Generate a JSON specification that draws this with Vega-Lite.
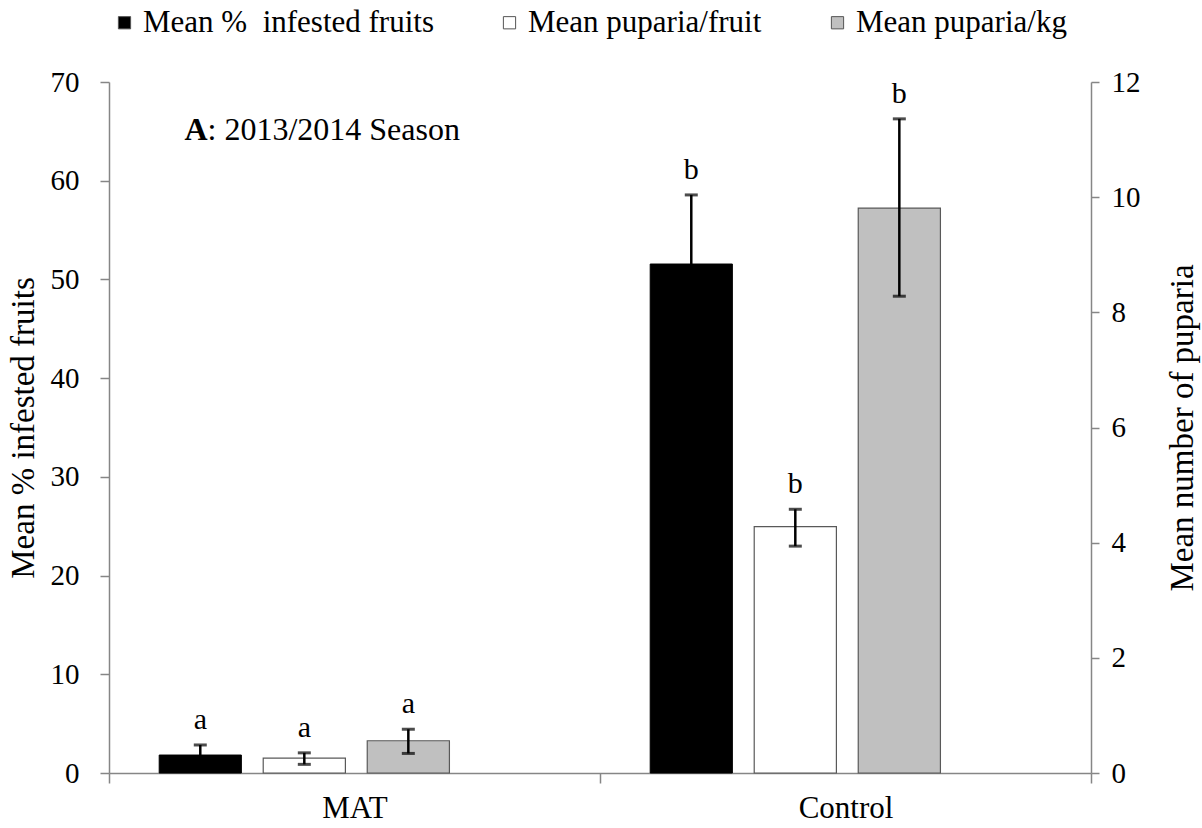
{
  "$schema": "https://vega.github.io/schema/vega-lite/v6.json",
  "width": 982,
  "height": 691,
  "autosize": {"type": "none"},
  "padding": {"left": 109, "top": 82, "right": 111, "bottom": 55},
  "background": "white",
  "config": {
    "font": "Liberation Serif",
    "view": {"stroke": null},
    "axis": {
      "grid": false,
      "domainColor": "#868686",
      "domainWidth": 1.5,
      "tickColor": "#868686",
      "tickWidth": 1.5,
      "labelColor": "black",
      "titleColor": "black",
      "labelFont": "Liberation Serif",
      "titleFont": "Liberation Serif",
      "labelFontSize": 29,
      "titleFontSize": 33,
      "titleFontWeight": "normal"
    },
    "legend": {
      "orient": "top",
      "direction": "horizontal",
      "title": null,
      "labelFont": "Liberation Serif",
      "labelFontSize": 31,
      "labelColor": "black",
      "labelLimit": 0,
      "symbolType": "square",
      "symbolSize": 150,
      "symbolStrokeColor": "#555555",
      "symbolStrokeWidth": 1,
      "columnPadding": 60,
      "labelOffset": 3,
      "offset": 44
    }
  },
  "data": {
    "values": [
      {"treat": "MAT", "series": "Mean % \u00a0infested fruits", "axis": "left", "value": 1.82, "lo": 0.82, "hi": 2.84, "letter": "a"},
      {"treat": "MAT", "series": "Mean puparia/fruit", "axis": "right", "value": 0.26, "lo": 0.15, "hi": 0.35, "letter": "a"},
      {"treat": "MAT", "series": "Mean puparia/kg", "axis": "right", "value": 0.56, "lo": 0.34, "hi": 0.76, "letter": "a"},
      {"treat": "Control", "series": "Mean % \u00a0infested fruits", "axis": "left", "value": 51.56, "lo": 44.56, "hi": 58.56, "letter": "b"},
      {"treat": "Control", "series": "Mean puparia/fruit", "axis": "right", "value": 4.28, "lo": 3.94, "hi": 4.58, "letter": "b"},
      {"treat": "Control", "series": "Mean puparia/kg", "axis": "right", "value": 9.81, "lo": 8.28, "hi": 11.36, "letter": "b"}
    ]
  },
  "layer": [
    {
      "layer": [
        {
          "transform": [{"filter": "datum.axis == 'left'"}],
          "mark": {"type": "bar", "stroke": "#000000", "strokeWidth": 1},
          "encoding": {
            "x": {"field": "treat", "type": "nominal", "sort": ["MAT", "Control"], "scale": {"paddingInner": 0, "paddingOuter": 0}, "axis": {"title": null, "labelAngle": 0, "tickBand": "extent", "tickSize": 10, "labelPadding": 10, "labelFontSize": 31}},
            "xOffset": {"field": "series", "type": "nominal", "scale": {"domain": ["Mean % \u00a0infested fruits", "Mean puparia/fruit", "Mean puparia/kg"], "paddingInner": 0.21, "paddingOuter": 0.965, "align": 0.25}},
            "y": {"field": "value", "type": "quantitative", "scale": {"domain": [0, 70]}, "axis": {"title": "Mean % infested fruits", "values": [0, 10, 20, 30, 40, 50, 60, 70], "tickSize": 9, "labelPadding": 21, "titlePadding": 10}},
            "fill": {"field": "series", "type": "nominal", "scale": {"domain": ["Mean % \u00a0infested fruits", "Mean puparia/fruit", "Mean puparia/kg"], "range": ["#000000", "#ffffff", "#c0c0c0"]}}
          }
        },
        {
          "transform": [{"filter": "datum.axis == 'left'"}],
          "mark": {"type": "rule", "color": "black", "strokeWidth": 2.5},
          "encoding": {
            "x": {"field": "treat", "type": "nominal", "sort": ["MAT", "Control"]},
            "xOffset": {"field": "series", "type": "nominal"},
            "y": {"field": "lo", "type": "quantitative", "axis": {"title": "Mean % infested fruits"}},
            "y2": {"field": "hi"}
          }
        },
        {
          "transform": [{"filter": "datum.axis == 'left'"}],
          "mark": {"type": "tick", "orient": "horizontal", "size": 13, "thickness": 3, "color": "black"},
          "encoding": {
            "x": {"field": "treat", "type": "nominal", "sort": ["MAT", "Control"]},
            "xOffset": {"field": "series", "type": "nominal"},
            "y": {"field": "hi", "type": "quantitative", "axis": {"title": "Mean % infested fruits"}}
          }
        },
        {
          "transform": [{"filter": "datum.axis == 'left'"}],
          "mark": {"type": "text", "fontSize": 30, "baseline": "alphabetic", "dy": -16, "color": "black"},
          "encoding": {
            "x": {"field": "treat", "type": "nominal", "sort": ["MAT", "Control"]},
            "xOffset": {"field": "series", "type": "nominal"},
            "y": {"field": "hi", "type": "quantitative", "axis": {"title": "Mean % infested fruits"}},
            "text": {"field": "letter"}
          }
        },
        {
          "data": {"values": [{"note": "A"}]},
          "mark": {"type": "text", "fontSize": 32, "fontWeight": "bold", "align": "left", "baseline": "alphabetic", "dx": -170, "color": "black"},
          "encoding": {
            "x": {"datum": "MAT", "type": "nominal"},
            "y": {"datum": 64.1, "type": "quantitative"},
            "text": {"field": "note"}
          }
        },
        {
          "data": {"values": [{"note": ": 2013/2014 Season"}]},
          "mark": {"type": "text", "fontSize": 32, "align": "left", "baseline": "alphabetic", "dx": -147, "color": "black"},
          "encoding": {
            "x": {"datum": "MAT", "type": "nominal"},
            "y": {"datum": 64.1, "type": "quantitative"},
            "text": {"field": "note"}
          }
        }
      ]
    },
    {
      "layer": [
        {
          "transform": [{"filter": "datum.axis == 'right'"}],
          "mark": {"type": "bar", "stroke": "#595959", "strokeWidth": 1.2},
          "encoding": {
            "x": {"field": "treat", "type": "nominal", "sort": ["MAT", "Control"]},
            "xOffset": {"field": "series", "type": "nominal"},
            "y": {"field": "value", "type": "quantitative", "scale": {"domain": [0, 12]}, "axis": {"title": "Mean number of puparia", "orient": "right", "format": "d", "values": [0, 2, 4, 6, 8, 10, 12], "tickSize": 8, "labelPadding": 12, "titlePadding": 26, "titleAngle": 270, "titleBaseline": "top"}},
            "fill": {"field": "series", "type": "nominal"}
          }
        },
        {
          "transform": [{"filter": "datum.axis == 'right'"}],
          "mark": {"type": "rule", "color": "black", "strokeWidth": 2.5},
          "encoding": {
            "x": {"field": "treat", "type": "nominal", "sort": ["MAT", "Control"]},
            "xOffset": {"field": "series", "type": "nominal"},
            "y": {"field": "lo", "type": "quantitative", "axis": {"title": "Mean number of puparia"}},
            "y2": {"field": "hi"}
          }
        },
        {
          "transform": [{"filter": "datum.axis == 'right'"}],
          "mark": {"type": "tick", "orient": "horizontal", "size": 13, "thickness": 3, "color": "black"},
          "encoding": {
            "x": {"field": "treat", "type": "nominal", "sort": ["MAT", "Control"]},
            "xOffset": {"field": "series", "type": "nominal"},
            "y": {"field": "hi", "type": "quantitative", "axis": {"title": "Mean number of puparia"}}
          }
        },
        {
          "transform": [{"filter": "datum.axis == 'right'"}],
          "mark": {"type": "tick", "orient": "horizontal", "size": 13, "thickness": 3, "color": "black"},
          "encoding": {
            "x": {"field": "treat", "type": "nominal", "sort": ["MAT", "Control"]},
            "xOffset": {"field": "series", "type": "nominal"},
            "y": {"field": "lo", "type": "quantitative", "axis": {"title": "Mean number of puparia"}}
          }
        },
        {
          "transform": [{"filter": "datum.axis == 'right'"}],
          "mark": {"type": "text", "fontSize": 30, "baseline": "alphabetic", "dy": -16, "color": "black"},
          "encoding": {
            "x": {"field": "treat", "type": "nominal", "sort": ["MAT", "Control"]},
            "xOffset": {"field": "series", "type": "nominal"},
            "y": {"field": "hi", "type": "quantitative", "axis": {"title": "Mean number of puparia"}},
            "text": {"field": "letter"}
          }
        }
      ]
    }
  ],
  "resolve": {"scale": {"y": "independent"}, "axis": {"y": "independent"}}
}
